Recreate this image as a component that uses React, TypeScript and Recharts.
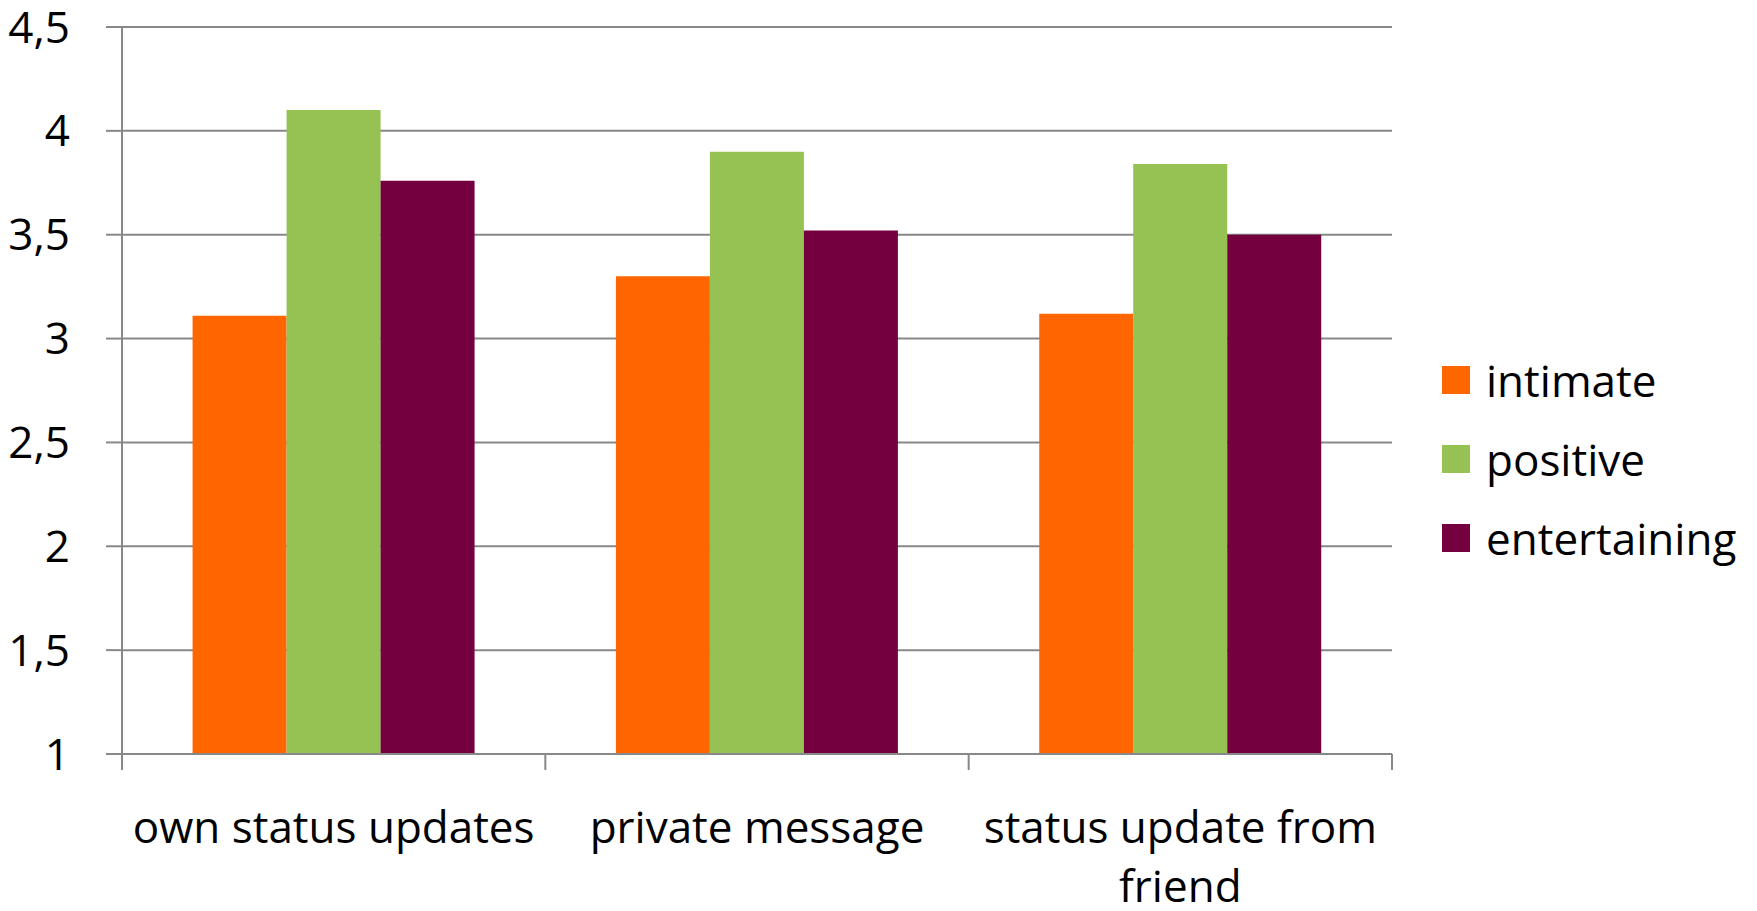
import { Bar, BarChart, CartesianGrid, XAxis, YAxis } from "recharts";

const categories = ["own status updates", "private message", "status update from friend"];
const intimate = [3.11, 3.3, 3.12];
const positive = [4.1, 3.9, 3.84];
const entertaining = [3.76, 3.52, 3.5];
const yTicks = [1, 1.5, 2, 2.5, 3, 3.5, 4, 4.5];

const series = [
  { key: "intimate", color: "#FF6600" },
  { key: "positive", color: "#96C153" },
  { key: "entertaining", color: "#75003F" },
];

const data = categories.map((name, i) => ({
  name,
  intimate: intimate[i],
  positive: positive[i],
  entertaining: entertaining[i],
}));

const W = 1757;
const H = 911;
const AXIS_W = 122;
const RIGHT = 365;
const FONT = '"Segoe UI", "Open Sans", "Noto Sans", sans-serif';
const GRID = "#888888";
const FS = 44;
const LINE_CHARS = 20;

// greedy word wrap so long category names break onto a second line
function wrap(label: string) {
  const lines: string[] = [];
  let cur = "";
  for (const w of label.split(" ")) {
    const next = cur ? cur + " " + w : w;
    if (next.length > LINE_CHARS && cur) {
      lines.push(cur);
      cur = w;
    } else cur = next;
  }
  if (cur) lines.push(cur);
  return lines;
}

// category label plus the boundary tick marks between groups
function CategoryTick(props: any) {
  const { x, y, payload, index } = props;
  const half = payload?.offset || (W - AXIS_W - RIGHT) / categories.length / 2;
  const last = index === categories.length - 1;
  const lines = wrap(String(payload.value));
  return (
    <g>
      <line x1={x - half} x2={x - half} y1={y} y2={y + 16} stroke={GRID} strokeWidth={2} />
      {last && <line x1={x + half} x2={x + half} y1={y} y2={y + 16} stroke={GRID} strokeWidth={2} />}
      <text x={x} y={y + 89} textAnchor="middle" fontSize={FS} fontFamily={FONT} fill="#000">
        {lines.map((l, i) => (
          <tspan key={i} x={x} dy={i === 0 ? 0 : 59}>
            {l}
          </tspan>
        ))}
      </text>
    </g>
  );
}

export default function App() {
  return (
    <div style={{ position: "relative", width: W, height: H, margin: "-8px 0 0 -8px", fontFamily: FONT }}>
      <BarChart
        width={W}
        height={H}
        data={data}
        margin={{ top: 27, right: RIGHT, bottom: 0, left: 0 }}
        barCategoryGap="16.67%"
        barGap={0}
      >
        <CartesianGrid vertical={false} stroke={GRID} strokeWidth={2} />
        <XAxis
          dataKey="name"
          height={157}
          interval={0}
          tickSize={0}
          tickMargin={0}
          tickLine={false}
          axisLine={{ stroke: GRID, strokeWidth: 2 }}
          tick={<CategoryTick />}
        />
        <YAxis
          width={AXIS_W}
          domain={[1, 4.5]}
          ticks={yTicks}
          tickSize={16}
          tickMargin={36}
          axisLine={{ stroke: GRID, strokeWidth: 2 }}
          tickLine={{ stroke: GRID, strokeWidth: 2 }}
          tick={{ fontSize: FS, fill: "#000", fontFamily: FONT }}
          tickFormatter={(v: number) => String(v).replace(".", ",")}
        />
        {series.map((s) => (
          <Bar key={s.key} dataKey={s.key} fill={s.color} isAnimationActive={false} />
        ))}
      </BarChart>
      <div style={{ position: "absolute", left: 1442, top: 340 }}>
        {series.map((s) => (
          <div key={s.key} style={{ height: 79, display: "flex", alignItems: "center" }}>
            <span style={{ width: 28, height: 28, background: s.color, marginRight: 16 }} />
            <span style={{ fontSize: FS, color: "#000", lineHeight: 1 }}>{s.key}</span>
          </div>
        ))}
      </div>
    </div>
  );
}
